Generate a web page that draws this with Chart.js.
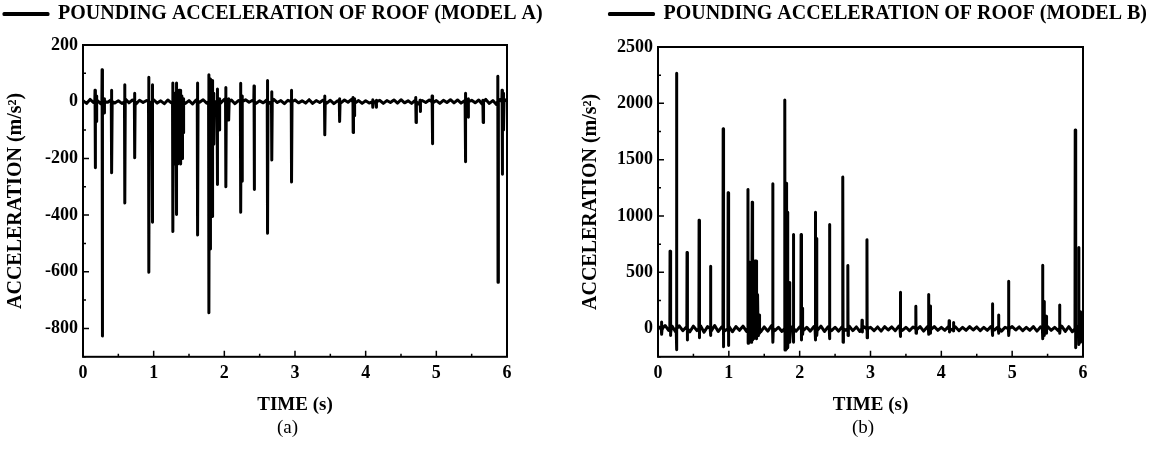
<!DOCTYPE html>
<html>
<head>
<meta charset="utf-8">
<script src="https://cdn.jsdelivr.net/npm/chart.js@4.4.1/dist/chart.umd.min.js"></script>
<style>
  html, body { margin: 0; padding: 0; background: #fff; }
  .panel { position: absolute; top: 0; height: 449px; }
  #panelA { left: 0; width: 575px; }
  #panelB { left: 575px; width: 576px; }
</style>
</head>
<body>
<div class="panel" id="panelA"><canvas id="chartA"></canvas></div>
<div class="panel" id="panelB"><canvas id="chartB"></canvas></div>
<script>
// axis ticks
const xTicks = [0, 1, 2, 3, 4, 5, 6]
const xMinor = [0.5, 1.5, 2.5, 3.5, 4.5, 5.5]
const yTicksA = [-800, -600, -400, -200, 0, 200]
const yMinorA = [-900, -700, -500, -300, -100, 100]
const yTicksB = [0, 500, 1000, 1500, 2000, 2500]
const yMinorB = [-250, 250, 750, 1250, 1750, 2250]

// baseline wiggle, one value every 0.05 s
const baseStep = 0.05
const baseA = [
  4, -6, 8, -3, 5, -7, 6, -2, 7, -5, 3, -6, 9, -4, 6, -8, 5, -3, 4, -6,
  7, -5, 3, -7, 6, -4, 8, -3, 5, -6, 4, -8, 6, -2, 7, -5, 3, -6, 5, -4,
  8, -3, 6, -7, 4, -5, 7, -2, 5, -6, 3, -4, 6, -5, 8, -3, 4, -7, 5, -6,
  6, -4, 3, -5, 7, -6, 4, -3, 6, -5, 5, -7, 3, -4, 6, -2, 8, -5, 4, -6,
  3, -5, 7, -4, 5, -6, 4, -3, 6, -5, 7, -4, 3, -6, 5, -8, 4, -3, 6, -5,
  4, -6, 5, -3, 7, -4, 6, -5, 3, -7, 5, -4, 6, -9, 8, -6, 4, -10, 7, -5, 9
]
const baseB = [
  20, -25, 28, -15, 22, -30, 25, -18, 15, -28, 22, -18, 25, -32, 18, -22, 28, -25, 15, -18,
  25, -28, 18, -15, 22, -25, 12, -18, 22, -28, 15, -22, 25, -18, 12, -25, 22, -15, 18, -22,
  15, -18, 12, -22, 18, -15, 22, -25, 15, -18, 12, -22, 18, -15, 22, -18, 15, -25, 18, -15,
  12, -18, 15, -22, 18, -12, 15, -18, 22, -15, 12, -18, 15, -12, 18, -22, 15, -12, 18, -15,
  12, -15, 18, -12, 15, -18, 12, -15, 18, -12, 15, -18, 12, -15, 18, -12, 15, -22, 12, -15,
  18, -12, 15, -18, 12, -15, 18, -22, 15, -12, 18, -15, 12, -18, 22, -25, 18, -28, 25, -30, 22
]

// pounding spikes: time (s), positive peak, negative peak (m/s2)
const spikeTimeA = [0.17, 0.19, 0.27, 0.30, 0.405, 0.59, 0.73, 0.93, 0.98, 1.27, 1.30, 1.32, 1.34, 1.36, 1.38, 1.40, 1.42,
  1.62, 1.78, 1.80, 1.83, 1.85, 1.90, 1.93, 2.02, 2.06, 2.23, 2.25, 2.42, 2.61, 2.67, 2.95,
  3.42, 3.63, 3.82, 3.84, 4.10, 4.15, 4.71, 4.77, 4.94, 5.41, 5.45, 5.66, 5.87, 5.93, 5.95]
const spikePosA = [40, 20, 113, 10, 40, 60, 30, 86, 60, 66, 30, 66, 20, 40, 40, 20, 10,
  66, 95, 80, 75, 30, 45, 10, 50, 10, 65, 20, 55, 75, 35, 40,
  20, 10, 15, 10, 5, 5, 15, 5, 20, 30, 10, 5, 90, 40, 30]
const spikeNegA = [-233, -70, -827, -40, -251, -357, -198, -602, -425, -458, -220, -398, -220, -215, -220, -200, -110,
  -470, -745, -520, -405, -150, -292, -100, -300, -65, -390, -281, -310, -464, -206, -283,
  -117, -70, -109, -50, -20, -20, -73, -35, -148, -212, -55, -73, -637, -256, -100]

const spikeTimeB = [0.05, 0.17, 0.18, 0.26, 0.41, 0.58, 0.74, 0.92, 0.99, 1.27, 1.29, 1.31, 1.33, 1.35, 1.37, 1.39, 1.41, 1.43,
  1.62, 1.79, 1.81, 1.83, 1.86, 1.91, 2.02, 2.04, 2.22, 2.24, 2.42, 2.61, 2.68, 2.88, 2.95,
  3.42, 3.64, 3.82, 3.84, 4.11, 4.17, 4.72, 4.81, 4.95, 5.43, 5.45, 5.48, 5.67, 5.89, 5.94, 5.96]
const spikePosB = [60, 687, 243, 2267, 675, 963, 554, 1775, 1206, 1235, 590, 580, 1123, 590, 600, 600, 300, 120,
  1286, 2030, 1290, 1034, 410, 835, 835, 180, 1034, 800, 924, 1345, 560, 75, 790,
  323, 198, 302, 200, 70, 55, 222, 120, 421, 563, 240, 110, 210, 1763, 720, 150]
const spikeNegB = [-50, -60, -40, -187, -100, -80, -60, -160, -150, -130, -100, -120, -100, -90, -80, -90, -60, -40,
  -120, -190, -180, -170, -120, -120, -100, -50, -100, -60, -90, -120, -60, -30, -80,
  -70, -40, -50, -40, -30, -20, -60, -40, -60, -90, -60, -40, -40, -170, -140, -120]

const FONT = "'Liberation Serif', 'Times New Roman', Times, serif"

function buildTrace(base, times, pos, neg) {
  const pts = base.map((v, i) => ({ x: +(i * baseStep).toFixed(3), y: v }))
  times.forEach((t, i) => {
    pts.push({ x: t - 0.003, y: 0 })
    pts.push({ x: t, y: pos[i] })
    pts.push({ x: t + 0.003, y: neg[i] })
    pts.push({ x: t + 0.008, y: 0 })
  })
  return pts.sort((a, b) => a.x - b.x)
}

// frame around the plot plus inward tick marks
const frameTicks = {
  id: 'frameTicks',
  afterDatasetsDraw(chart, args, opts) {
    const { ctx, chartArea: a, scales: { x, y } } = chart
    ctx.save()
    ctx.strokeStyle = '#000'
    ctx.lineWidth = 2
    ctx.strokeRect(a.left, a.top, a.width, a.height)
    ctx.lineWidth = 1.5
    ctx.beginPath()
    xTicks.forEach(v => { const p = x.getPixelForValue(v); ctx.moveTo(p, a.bottom); ctx.lineTo(p, a.bottom - 6) })
    xMinor.forEach(v => { const p = x.getPixelForValue(v); ctx.moveTo(p, a.bottom); ctx.lineTo(p, a.bottom - 3) })
    opts.major.forEach(v => { const p = y.getPixelForValue(v); ctx.moveTo(a.left, p); ctx.lineTo(a.left + 6, p) })
    opts.minor.forEach(v => { const p = y.getPixelForValue(v); ctx.moveTo(a.left, p); ctx.lineTo(a.left + 3, p) })
    ctx.stroke()
    ctx.restore()
  }
}

// push the plot down below the legend
const legendGap = {
  id: 'legendGap',
  beforeInit(chart, args, opts) {
    const fit = chart.legend.fit
    chart.legend.fit = function() {
      fit.bind(chart.legend)()
      this.height += opts.gap
    }
  }
}

function makeChart(id, label, data, yMin, yMax, yTicks, yMinor, letter, align, gap) {
  return new Chart(document.getElementById(id), {
    type: 'line',
    data: {
      datasets: [{
        label: label,
        data: data,
        borderColor: '#000',
        backgroundColor: '#000',
        borderWidth: 3,
        borderJoinStyle: 'round',
        pointRadius: 0,
        tension: 0,
        fill: false
      }]
    },
    options: {
      responsive: true,
      maintainAspectRatio: false,
      animation: false,
      events: [],
      layout: { padding: 0 },
      plugins: {
        legend: {
          display: true,
          position: 'top',
          align: align,
          labels: {
            boxWidth: 44,
            boxHeight: 1,
            padding: 4,
            color: '#000',
            font: { family: FONT, size: 20, weight: 'bold' }
          }
        },
        subtitle: {
          display: true,
          position: 'bottom',
          text: letter,
          color: '#000',
          padding: { top: 0, bottom: 10 },
          font: { family: FONT, size: 19, weight: 'normal' }
        },
        tooltip: { enabled: false },
        legendGap: { gap: gap },
        frameTicks: { major: yTicks, minor: yMinor }
      },
      scales: {
        x: {
          type: 'linear',
          min: 0,
          max: 6,
          afterBuildTicks: s => { s.ticks = xTicks.map(v => ({ value: v })) },
          grid: { display: false, drawTicks: false },
          border: { display: false },
          ticks: {
            padding: 6,
            color: '#000',
            maxRotation: 0,
            callback: v => String(v),
            font: { family: FONT, size: 18, weight: 'bold' }
          },
          title: {
            display: true,
            text: 'TIME (s)',
            color: '#000',
            padding: { top: 3, bottom: 0 },
            font: { family: FONT, size: 19, weight: 'bold' }
          }
        },
        y: {
          min: yMin,
          max: yMax,
          afterBuildTicks: s => { s.ticks = yTicks.map(v => ({ value: v })) },
          afterFit: s => { s.width = 83 },
          grid: { display: false, drawTicks: false },
          border: { display: false },
          ticks: {
            padding: 5,
            color: '#000',
            callback: v => String(v),
            font: { family: FONT, size: 18, weight: 'bold' }
          },
          title: {
            display: true,
            text: 'ACCELERATION (m/s²)',
            color: '#000',
            padding: { top: 4, bottom: 0 },
            font: { family: FONT, size: 20, weight: 'bold' }
          }
        },
        // empty right-hand axis, only keeps the space right of the plot
        yRight: {
          position: 'right',
          display: true,
          afterFit: s => { s.width = 68 },
          grid: { display: false, drawTicks: false },
          border: { display: false },
          ticks: { display: false }
        }
      }
    },
    plugins: [frameTicks, legendGap]
  })
}

makeChart('chartA', 'POUNDING ACCELERATION OF ROOF (MODEL A)',
  buildTrace(baseA, spikeTimeA, spikePosA, spikeNegA),
  -900, 200, yTicksA, yMinorA, '(a)', 'start', 11)

makeChart('chartB', 'POUNDING ACCELERATION OF ROOF (MODEL B)',
  buildTrace(baseB, spikeTimeB, spikePosB, spikeNegB),
  -250, 2500, yTicksB, yMinorB, '(b)', 'end', 13)
</script>
</body>
</html>
